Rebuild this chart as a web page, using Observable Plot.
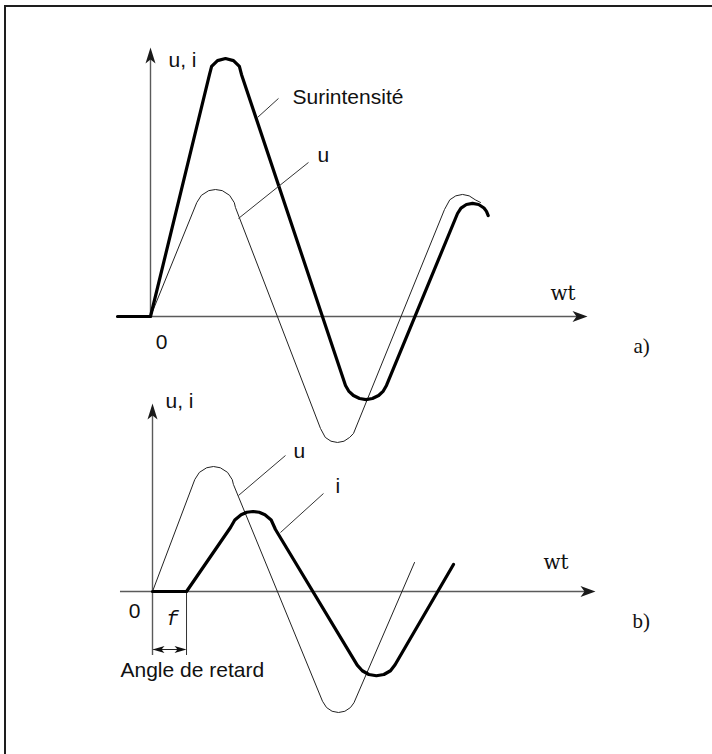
<!DOCTYPE html>
<html><head><meta charset="utf-8">
<script src="https://cdn.jsdelivr.net/npm/d3@7"></script>
<script src="https://cdn.jsdelivr.net/npm/@observablehq/plot@0.6"></script>
<style>
body{margin:0;background:#fff;}
#wrap{position:relative;width:712px;height:754px;overflow:hidden;background:#fff;}
#frame{position:absolute;left:4px;top:5px;width:720px;height:760px;border-left:2px solid #1e1e1e;border-top:2px solid #1e1e1e;pointer-events:none;}
#wrap svg{display:block;position:absolute;left:0;top:0;}
</style></head><body><div id="wrap"><div id="frame"></div></div>
<script>
// x: ωt in degrees; y: amplitude in units of the peak of u
// Panel a) — voltage u (thin) and inrush current "Surintensité" (thick)
const uA = [[0,0],
  [66.7,0.898],[73.3,0.954],[83.8,0.991],[93.6,1.0],[103.4,0.991],[113.9,0.954],[120.7,0.896],[122.3,0.859],
  [244.8,-0.882],[251.7,-0.952],[259.9,-0.982],[269.3,-0.992],[278.6,-0.982],[286.8,-0.952],[292.3,-0.921],
  [423.4,0.843],[431,0.919],[439.6,0.95],[449.3,0.961],[458.9,0.95],[467.6,0.919],[475.2,0.898]];
const iA = [[-47.5,0],[0,0],
  [85,1.906],[88,1.969],[96.5,2.015],[108,2.031],[119.5,2.015],[128,1.969],[131,1.906],
  [280.8,-0.543],[285.4,-0.587],[292.2,-0.622],[301.1,-0.646],[310.3,-0.654],[319.5,-0.646],[328.5,-0.622],[335.2,-0.587],[339.8,-0.543],
  [442.1,0.811],[447.1,0.854],[454.9,0.882],[463.7,0.891],[472.5,0.882],[480.2,0.854],[483.8,0.828],[486.3,0.795]];
// Panel b) — voltage u (thin) and delayed current i (thick)
const uB = [[0,0],
  [60.9,0.896],[67.5,0.953],[78,0.99],[87.8,1.0],[97.6,0.99],[108.1,0.953],[114.9,0.894],[116.5,0.857],
  [244.8,-0.878],[250.6,-0.928],[258.6,-0.958],[267.8,-0.968],[277,-0.958],[285.1,-0.928],[290.1,-0.89],
  [377.3,0.232]];
const iB = [[0,0],[49,0],
  [112.3,0.512],[118.5,0.572],[127.6,0.614],[135.8,0.634],[144.7,0.64],[153.6,0.634],[161.9,0.614],[170.9,0.572],[177.1,0.496],
  [294.8,-0.589],[302.1,-0.634],[311.6,-0.664],[322.4,-0.674],[333.2,-0.664],[342.7,-0.634],[349.3,-0.586],
  [433.4,0.216]];
const delayAngle = 49; // angle de retard φ (degrees)

const labelsA = ["u, i", "Surintensité", "u", "wt", "0", "a)"];
const labelsB = ["u, i", "u", "i", "wt", "0", "f", "Angle de retard", "b)"];

const SANS = "Liberation Sans, Arial, Helvetica, sans-serif";
const SERIF = "DejaVu Serif, serif";
const TIMES = "Liberation Serif, Times New Roman, serif";
const MONO = "Liberation Mono, Courier New, monospace";

function arrowSym(dir, len, half, notch) {
  return {draw(ctx) {
    const pts = {
      right: [[0,0],[-len,-half],[-len+notch,0],[-len,half]],
      left:  [[0,0],[len,-half],[len-notch,0],[len,half]],
      up:    [[0,0],[-half,len],[0,len-notch],[half,len]]
    }[dir];
    ctx.moveTo(pts[0][0], pts[0][1]);
    for (let k = 1; k < pts.length; ++k) ctx.lineTo(pts[k][0], pts[k][1]);
    ctx.closePath();
  }};
}
const X = d => d[0], Y = d => d[1];
const axisStyle = {stroke: "#5a5a5a", strokeWidth: 1.4};
const thin = {stroke: "#222", strokeWidth: 1};
const thick = {stroke: "#000", strokeWidth: 3.2, strokeLinejoin: "round"};
const lead = {stroke: "#333", strokeWidth: 1};
function txt(s, x, y, o) {
  return Plot.text([s], {x, y, text: d => d, textAnchor: "start", lineAnchor: "bottom",
    fontSize: 21, fontFamily: SANS, fill: "#111", ...o});
}
const base = {width: 712, height: 754, style: {background: "transparent"}};

const plotA = Plot.plot({
  ...base,
  x: {domain: [0, 360], range: [150, 400], axis: null},
  y: {domain: [0, 1], range: [316, 189], axis: null},
  marks: [
    Plot.ruleY([0], {x1: -47.5, x2: 625, ...axisStyle}),
    Plot.ruleX([0], {y1: 0, y2: 2.08, ...axisStyle}),
    Plot.dot([[629.3, 0]], {x: X, y: Y, symbol: arrowSym("right", 15, 5.5, 4), fill: "#1a1a1a", stroke: "none"}),
    Plot.dot([[0, 2.118]], {x: X, y: Y, symbol: arrowSym("up", 16, 5, 4), fill: "#1a1a1a", stroke: "none"}),
    Plot.line(uA, {x: X, y: Y, ...thin}),
    Plot.line(iA, {x: X, y: Y, ...thick}),
    Plot.link([0], {x1: 154.1, y1: 1.567, x2: 184.3, y2: 1.717, ...lead}),
    Plot.link([0], {x1: 126.7, y1: 0.772, x2: 227.5, y2: 1.213, ...lead}),
    txt(labelsA[0], 25.9, 1.961),
    txt(labelsA[1], 204.5, 1.677),
    txt(labelsA[2], 240.5, 1.213),
    txt(labelsA[3], 576, 0.126, {fontFamily: SERIF, fontSize: 20}),
    txt(labelsA[4], 15.8, -0.252, {textAnchor: "middle"}),
    txt(labelsA[5], 695.5, -0.291, {fontFamily: TIMES})
  ]
});

const plotB = Plot.plot({
  ...base,
  x: {domain: [0, 360], range: [152, 402], axis: null},
  y: {domain: [0, 1], range: [591, 466], axis: null},
  marks: [
    Plot.ruleY([0], {x1: -46.1, x2: 633, ...axisStyle}),
    Plot.ruleX([0], {y1: -0.512, y2: 1.47, ...axisStyle}),
    Plot.ruleX([delayAngle], {y1: -0.512, y2: 0, stroke: "#333", strokeWidth: 1}),
    Plot.ruleY([-0.464], {x1: 2, x2: delayAngle - 2, stroke: "#222", strokeWidth: 1}),
    Plot.dot([[0, -0.464]], {x: X, y: Y, symbol: arrowSym("left", 12, 3.5, 3), fill: "#111", stroke: "none"}),
    Plot.dot([[delayAngle, -0.464]], {x: X, y: Y, symbol: arrowSym("right", 12, 3.5, 3), fill: "#111", stroke: "none"}),
    Plot.dot([[637.9, 0]], {x: X, y: Y, symbol: arrowSym("right", 15, 5.5, 4), fill: "#1a1a1a", stroke: "none"}),
    Plot.dot([[0, 1.504]], {x: X, y: Y, symbol: arrowSym("up", 16, 5, 4), fill: "#1a1a1a", stroke: "none"}),
    Plot.line(uB, {x: X, y: Y, ...thin}),
    Plot.line(iB, {x: X, y: Y, ...thick}),
    Plot.link([0], {x1: 123.8, y1: 0.768, x2: 191.5, y2: 1.088, ...lead}),
    Plot.link([0], {x1: 184.3, y1: 0.472, x2: 246.2, y2: 0.784, ...lead}),
    txt(labelsB[0], 18.7, 1.472),
    txt(labelsB[1], 203, 1.072),
    txt(labelsB[2], 263.5, 0.792),
    txt(labelsB[3], 563, 0.184, {fontFamily: SERIF, fontSize: 20}),
    txt(labelsB[4], -25.9, -0.208, {textAnchor: "middle"}),
    txt(labelsB[5], 28.8, -0.264, {textAnchor: "middle", fontFamily: MONO, fontStyle: "italic", fontSize: 20}),
    txt(labelsB[6], -46.1, -0.68),
    txt(labelsB[7], 691.2, -0.288, {fontFamily: TIMES})
  ]
});

const wrap = document.getElementById("wrap");
wrap.insertBefore(plotA, wrap.firstChild);
wrap.insertBefore(plotB, plotA.nextSibling);
</script>
</body></html>
